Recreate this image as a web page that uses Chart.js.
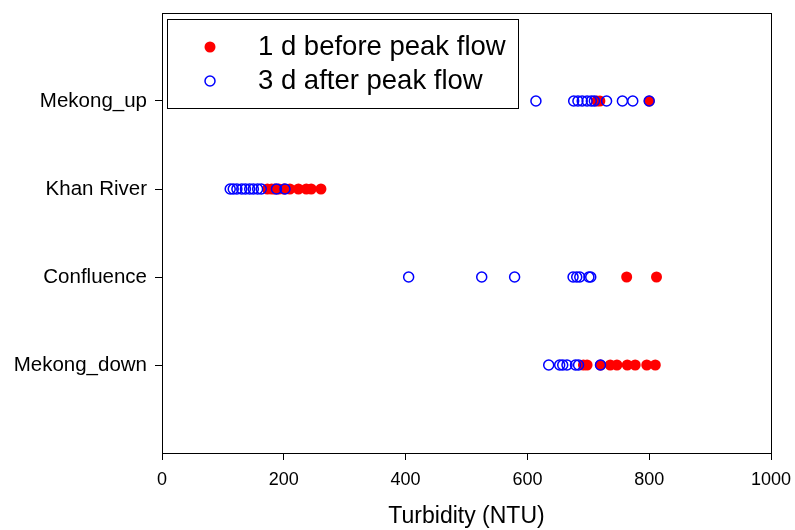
<!DOCTYPE html>
<html>
<head>
<meta charset="utf-8">
<script src="https://cdn.jsdelivr.net/npm/chart.js@4/dist/chart.umd.min.js"></script>
<style>
html,body{margin:0;padding:0;background:#fff;}
#wrap{width:795px;height:530px;}
</style>
</head>
<body>
<div id="wrap"><canvas id="c" width="795" height="530"></canvas></div>
<script>
// Categories (top to bottom) and their y positions
const categories = ["Mekong_up", "Khan River", "Confluence", "Mekong_down"];
const categoryPos = [4, 3, 2, 1];

// 1 d before peak flow (red filled)
const beforeMekongUp = [714, 719, 800];
const beforeKhan = [173, 180, 185, 192, 200, 210, 224, 237, 245, 261];
const beforeConfluence = [763, 812];
const beforeMekongDown = [692, 698, 720, 736, 747, 764, 777, 796, 810];

// 3 d after peak flow (blue open)
const afterMekongUp = [614, 676, 683, 690, 698, 705, 710, 730, 756, 773, 800];
const afterKhan = [112, 117, 123, 131, 137, 144, 150, 157, 163, 188, 202];
const afterConfluence = [405, 525, 579, 675, 681, 686, 701, 704];
const afterMekongDown = [635, 653, 658, 665, 679, 684, 720];

const xTicks = [0, 200, 400, 600, 800, 1000];
const seriesNames = ["1 d before peak flow", "3 d after peak flow"];

function pts(groups) {
  const out = [];
  groups.forEach((vals, i) => vals.forEach(v => out.push({x: v, y: categoryPos[i]})));
  return out;
}
const beforeData = pts([beforeMekongUp, beforeKhan, beforeConfluence, beforeMekongDown]);
const afterData = pts([afterMekongUp, afterKhan, afterConfluence, afterMekongDown]);

const frameLegend = {
  id: 'frameLegend',
  afterDatasetsDraw(chart) {
    const {ctx, chartArea: a} = chart;
    ctx.save();
    ctx.strokeStyle = '#000';
    ctx.lineWidth = 1;
    ctx.strokeRect(Math.round(a.left) + 0.5, Math.round(a.top) + 0.5, Math.round(a.right - a.left), Math.round(a.bottom - a.top));
    // legend box
    const lx = a.left + 5, ly = a.top + 6, lw = 351, lh = 89;
    ctx.fillStyle = '#fff';
    ctx.fillRect(lx, ly, lw, lh);
    ctx.strokeRect(Math.round(lx) + 0.5, Math.round(ly) + 0.5, lw, lh);
    const rows = [ly + 28, ly + 62];
    // red filled
    ctx.beginPath();
    ctx.arc(lx + 43, rows[0], 5.5, 0, Math.PI * 2);
    ctx.fillStyle = '#ff0000';
    ctx.fill();
    // blue open
    ctx.beginPath();
    ctx.arc(lx + 43, rows[1], 5, 0, Math.PI * 2);
    ctx.strokeStyle = '#0000ff';
    ctx.lineWidth = 1.5;
    ctx.stroke();
    ctx.fillStyle = '#000';
    ctx.font = '27.5px "Liberation Sans", Arial, sans-serif';
    ctx.textBaseline = 'middle';
    ctx.textAlign = 'left';
    ctx.fillText(seriesNames[0], lx + 91, rows[0]);
    ctx.fillText(seriesNames[1], lx + 91, rows[1]);
    ctx.restore();
  }
};

new Chart(document.getElementById('c'), {
  type: 'scatter',
  data: {
    datasets: [
      {
        label: seriesNames[0],
        data: beforeData,
        backgroundColor: '#ff0000',
        borderColor: '#ff0000',
        pointRadius: 5.5,
        pointBorderWidth: 0,
        order: 2
      },
      {
        label: seriesNames[1],
        data: afterData,
        backgroundColor: 'rgba(0,0,0,0)',
        borderColor: '#0000ff',
        pointRadius: 5,
        pointBorderWidth: 1.5,
        order: 1
      }
    ]
  },
  options: {
    responsive: false,
    animation: false,
    devicePixelRatio: 1,
    layout: {padding: {top: 13, right: 24, left: 0, bottom: 0}},
    plugins: {legend: {display: false}, tooltip: {enabled: false}},
    scales: {
      x: {
        type: 'linear',
        min: 0, max: 1000,
        afterBuildTicks(s) { s.ticks = xTicks.map(v => ({value: v})); },
        afterFit(s) { s.height = 77; s.paddingLeft = 0; s.paddingRight = 0; },
        grid: {display: true, drawOnChartArea: false, drawTicks: true, tickLength: 7, color: '#000', lineWidth: 1},
        border: {display: true, color: '#000', width: 1},
        ticks: {
          color: '#000', font: {family: '"Liberation Sans", Arial', size: 18}, padding: 9, maxRotation: 0,
          callback(v) { return String(v); }
        },
        title: {display: true, text: 'Turbidity (NTU)', color: '#000', font: {family: '"Liberation Sans", Arial', size: 23}, padding: {top: 14, bottom: 0}}
      },
      y: {
        type: 'linear',
        min: 0, max: 5,
        afterBuildTicks(s) { s.ticks = categoryPos.map(v => ({value: v})); },
        afterFit(s) { s.width = 162; s.paddingTop = 0; s.paddingBottom = 0; },
        grid: {display: true, drawOnChartArea: false, drawTicks: true, tickLength: 7, color: '#000', lineWidth: 1},
        border: {display: true, color: '#000', width: 1},
        ticks: {
          color: '#000', font: {family: '"Liberation Sans", Arial', size: 20.5}, padding: 8,
          callback(v) { const i = categoryPos.indexOf(v); return i >= 0 ? categories[i] : ''; }
        }
      }
    }
  },
  plugins: [frameLegend]
});
</script>
</body>
</html>
